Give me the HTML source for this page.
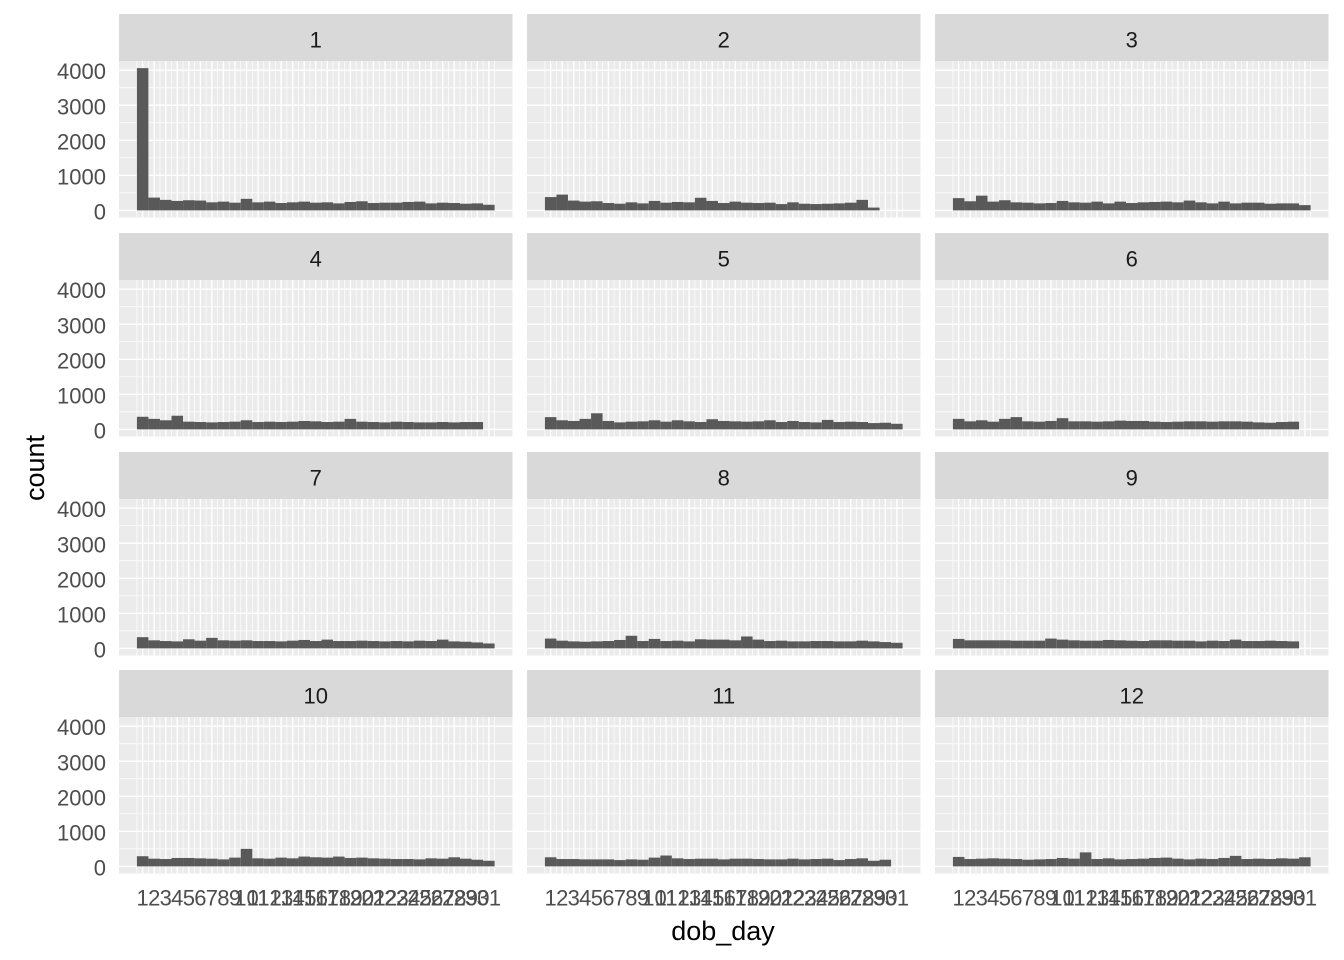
<!DOCTYPE html>
<html><head><meta charset="utf-8"><style>
body{margin:0;background:#fff;}
svg{display:block;font-family:"Liberation Sans",Arial,sans-serif;}
</style></head><body>
<svg id="chart" width="1344" height="960"></svg>
<script>
const months = ["1","2","3","4","5","6","7","8","9","10","11","12"];
const m1 = [4060,365,300,270,290,280,230,250,220,330,230,250,210,230,250,220,230,200,240,260,210,220,220,240,250,200,220,210,190,200,160];
const m2 = [380,450,280,250,260,210,190,230,200,270,220,240,230,360,270,210,250,220,210,220,180,230,190,180,190,200,220,300,80];
const m3 = [350,260,420,250,290,230,220,200,210,270,230,220,250,200,250,210,230,240,250,230,280,230,200,250,200,220,220,190,200,200,150];
const m4 = [360,300,260,390,220,210,200,210,220,260,210,220,210,220,240,230,210,220,300,220,210,200,220,210,200,200,210,200,210,210];
const m5 = [350,260,240,300,460,240,200,220,230,260,220,260,230,210,290,240,230,220,230,260,210,240,210,200,270,210,220,210,180,190,160];
const m6 = [300,230,260,220,300,350,230,220,240,320,230,230,220,230,250,240,240,220,210,220,230,230,220,230,230,220,200,190,210,220];
const m7 = [320,230,210,200,260,220,300,230,220,230,210,210,200,220,240,210,250,210,210,220,210,200,210,200,220,210,250,200,190,170,140];
const m8 = [280,220,200,190,200,210,240,360,210,270,210,220,200,260,250,250,230,340,250,210,220,200,200,210,210,200,200,220,200,180,160];
const m9 = [270,230,230,230,230,220,220,220,280,250,230,220,220,240,230,220,210,230,230,220,220,200,220,210,250,210,210,220,210,200];
const m10 = [290,220,210,240,240,230,220,200,250,500,230,220,250,230,280,260,250,280,240,250,230,220,210,210,200,230,220,260,220,190,160];
const m11 = [260,210,210,200,200,200,180,200,190,250,310,230,210,220,220,200,220,220,210,200,200,220,200,210,220,180,210,230,160,190];
const m12 = [270,210,220,230,220,210,190,200,210,240,220,400,210,230,200,210,220,240,250,220,200,220,210,240,300,210,220,210,230,220,260];
const yTicks = [0,1000,2000,3000,4000];
const xTicks = [1,2,3,4,5,6,7,8,9,10,11,12,13,14,15,16,17,18,19,20,21,22,23,24,25,26,27,28,29,30,31];
const series = [m1,m2,m3,m4,m5,m6,m7,m8,m9,m10,m11,m12];

const NS="http://www.w3.org/2000/svg";
const svg=document.getElementById('chart');
function mk(t,a,p){const e=document.createElementNS(NS,t);for(const k in a)e.setAttribute(k,a[k]);(p||svg).appendChild(e);return e;}
const colX=[119,527,935], pw=393.5, stripTop=[14,233,452,670], stripH=47, ph=156.5;
const ymax=Math.max(...series.map(s=>Math.max(...s)));
const yLo=-0.05*ymax, yHi=ymax*1.05;
const xLo=0.5-0.05*31, xHi=31.5+0.05*31;
for(let i=0;i<12;i++){
  const r=Math.floor(i/3), c=i%3;
  const x0=colX[c], st=stripTop[r], y0=st+stripH;
  const X=v=>x0+(v-xLo)/(xHi-xLo)*pw;
  const Y=v=>y0+ph-(v-yLo)/(yHi-yLo)*ph;
  const g=mk('g',{});
  
  
  const s=mk('rect',{x:x0,y:st,width:pw,height:stripH,fill:'#D9D9D9'},g);
  
  
  const st_t=mk('text',{x:x0+pw/2,y:st+stripH/2+10,'text-anchor':'middle','font-size':22,fill:'#1A1A1A'},g);
  st_t.textContent=months[i];
  
  
  mk('rect',{x:x0,y:y0,width:pw,height:ph,fill:'#EBEBEB'},g);
  for(let k=0;k<yTicks.length;k++){
    const mv=yTicks[k]+500;
    if(Y(mv)>y0) mk('line',{x1:x0,x2:x0+pw,y1:Y(mv),y2:Y(mv),stroke:'#fff','stroke-width':0.7},g);
  }
  for(const v of xTicks){
    mk('line',{x1:X(v+0.5),x2:X(v+0.5),y1:y0,y2:y0+ph,stroke:'#fff','stroke-width':0.7},g);
  }
  mk('line',{x1:X(0.5),x2:X(0.5),y1:y0,y2:y0+ph,stroke:'#fff','stroke-width':0.7},g);
  for(const v of yTicks) mk('line',{x1:x0,x2:x0+pw,y1:Y(v),y2:Y(v),stroke:'#fff','stroke-width':1.4},g);
  for(const v of xTicks) mk('line',{x1:X(v),x2:X(v),y1:y0,y2:y0+ph,stroke:'#fff','stroke-width':1.4},g);
  const d=series[i];
  for(let j=0;j<d.length;j++){
    const b=mk('rect',{x:X(j+0.5),y:Y(d[j]),width:X(j+1.5)-X(j+0.5),height:Y(0)-Y(d[j]),fill:'#595959'},g);
    
    
  }
  if(c===0){
    for(const v of yTicks){
      const t=mk('text',{x:x0-13,y:Y(v)+9,'text-anchor':'end','font-size':22,fill:'#4D4D4D'},g);
      t.textContent=v;
      
      
    }
  }
  if(r===3){
    for(const v of xTicks){
      const t=mk('text',{x:X(v),y:y0+ph+32,'text-anchor':'middle','font-size':22,fill:'#4D4D4D'},g);
      t.textContent=v;
      
      
    }
  }
}
const xt=mk('text',{x:723,y:940,'text-anchor':'middle','font-size':27,fill:'#000'});
xt.textContent='dob_day';


const yt=mk('text',{x:44,y:468,'text-anchor':'middle','font-size':27,fill:'#000',transform:'rotate(-90 44 468)'});
yt.textContent='count';


</script>
</body></html>
